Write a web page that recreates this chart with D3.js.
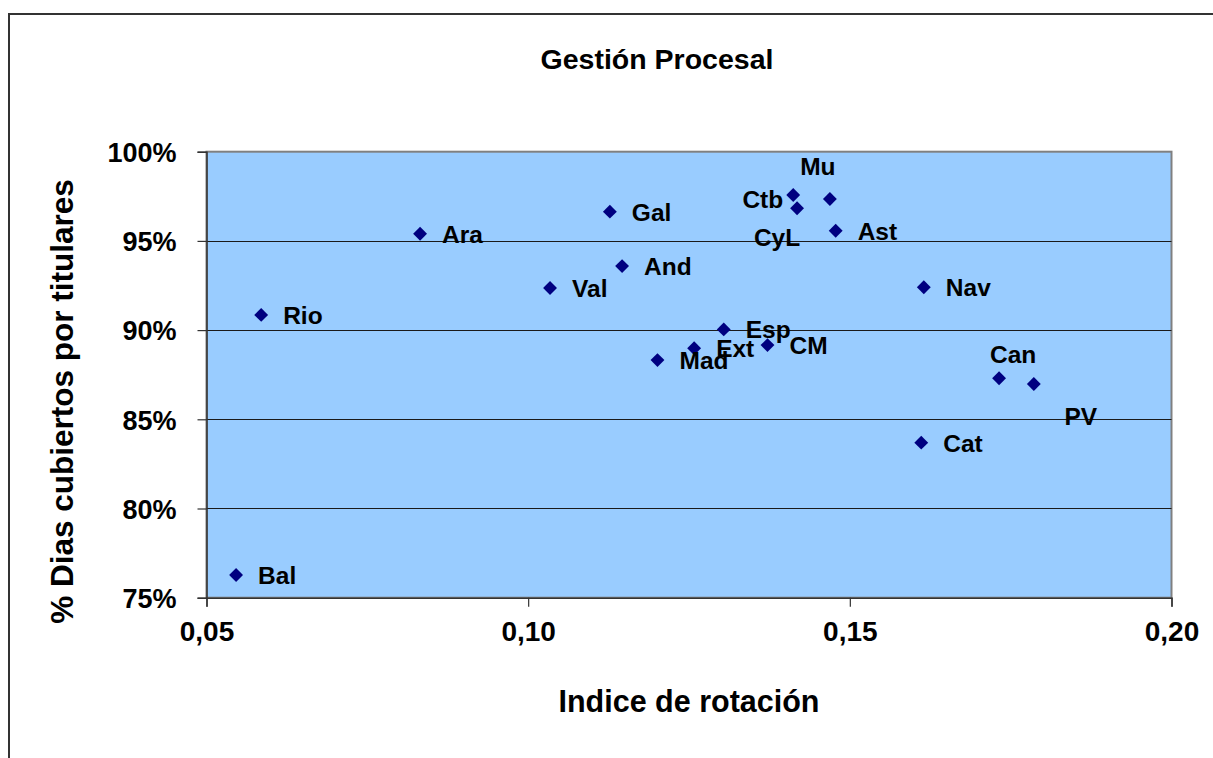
<!DOCTYPE html>
<html>
<head>
<meta charset="utf-8">
<script src="https://cdn.jsdelivr.net/npm/d3@7"></script>
<style>
  html, body { margin: 0; padding: 0; background: #fff; }
  svg { display: block; font-family: "Liberation Sans", Arial, sans-serif; font-weight: bold; }
</style>
</head>
<body>
<svg id="chart" width="1213" height="758"></svg>
<script>
// ---- Data ----
const regions = ["Bal","Rio","Ara","Val","Gal","And","Mad","Ext","Esp","CM","Ctb","CyL","Mu","Ast","Nav","Cat","Can","PV"];
const rotationIndex = [0.0546,0.0585,0.0832,0.1034,0.1127,0.1146,0.1201,0.1258,0.1304,0.1372,0.1412,0.1418,0.1469,0.1478,0.1615,0.1611,0.1732,0.1786];
const coveredDays = [0.7627,0.9085,0.9540,0.9236,0.9664,0.9359,0.8832,0.8898,0.9004,0.8916,0.9757,0.9683,0.9735,0.9557,0.9240,0.8369,0.8730,0.8698];
const xTicks = [0.05,0.10,0.15,0.20];
const yTicks = [0.75,0.80,0.85,0.90,0.95,1.00];
const chartTitle = "Gestión Procesal";
const xTitle = "Indice de rotación";
const yTitle = "% Dias cubiertos por titulares";

// ---- Layout (not data) ----
const plot = { left: 206.5, right: 1171.5, top: 151.7, bottom: 597.7 };
// custom label placements (anchor, dx, dy from the marker); default = right
const labelPlacement = {
  Mu:  { anchor: "middle", dx: -12, dy: -24 },
  Ctb: { anchor: "end",    dx: -10, dy: 13 },
  CyL: { anchor: "middle", dx: -20, dy: 38 },
  Can: { anchor: "middle", dx: 14,  dy: -15 },
  PV:  { anchor: "middle", dx: 47,  dy: 41 }
};

const svg = d3.select("#chart");
const fmtComma = d3.format(".2f");

const x = d3.scaleLinear().domain([0.05, 0.20]).range([plot.left, plot.right]);
const y = d3.scaleLinear().domain([0.75, 1.00]).range([plot.bottom, plot.top]);

// outer chart border
svg.append("rect")
  .attr("x", 9).attr("y", 14).attr("width", 1400).attr("height", 900)
  .attr("fill", "#fff").attr("stroke", "#333").attr("stroke-width", 2);

// plot area
svg.append("rect")
  .attr("x", plot.left).attr("y", plot.top)
  .attr("width", plot.right - plot.left).attr("height", plot.bottom - plot.top)
  .attr("fill", "#99CCFF").attr("stroke", "#808080").attr("stroke-width", 2);

// gridlines
svg.append("g").selectAll("line")
  .data(yTicks.filter(t => t > 0.75 && t < 1.0))
  .join("line")
  .attr("x1", plot.left).attr("x2", plot.right)
  .attr("y1", d => Math.round(y(d)) + 0.5).attr("y2", d => Math.round(y(d)) + 0.5)
  .attr("stroke", "#1a1a1a").attr("stroke-width", 1);

// axes
const yAxis = d3.axisLeft(y).tickValues(yTicks).tickSize(9).tickPadding(21)
  .tickFormat(d => Math.round(d * 100) + "%");
const gy = svg.append("g").attr("transform", `translate(${plot.left},0)`).call(yAxis);
gy.select(".domain").attr("stroke", "#333").attr("stroke-width", 1.5);
gy.selectAll(".tick line").attr("stroke", "#333").attr("stroke-width", 1.2);
gy.selectAll(".tick text").attr("font-size", 27).attr("font-weight", "bold")
  .attr("font-family", "Liberation Sans, Arial, sans-serif").attr("fill", "#000").attr("dy", "0.36em");

const xAxis = d3.axisBottom(x).tickValues(xTicks).tickSize(9).tickPadding(14)
  .tickFormat(d => fmtComma(d).replace(".", ","));
const gx = svg.append("g").attr("transform", `translate(0,${plot.bottom})`).call(xAxis);
gx.select(".domain").attr("stroke", "#333").attr("stroke-width", 1.5);
gx.selectAll(".tick line").attr("stroke", "#333").attr("stroke-width", 1.2);
gx.selectAll(".tick text").attr("font-size", 28).attr("font-weight", "bold")
  .attr("font-family", "Liberation Sans, Arial, sans-serif").attr("fill", "#000");

// points
const points = regions.map((r, i) => ({ name: r, xv: rotationIndex[i], yv: coveredDays[i] }));
const sym = d3.symbol().type(d3.symbolSquare).size(96);
svg.append("g").selectAll("path")
  .data(points).join("path")
  .attr("d", sym)
  .attr("transform", d => `translate(${x(d.xv)},${y(d.yv)}) rotate(45)`)
  .attr("fill", "#000080");

// labels
svg.append("g").selectAll("text")
  .data(points).join("text")
  .attr("x", d => x(d.xv) + (labelPlacement[d.name] ? labelPlacement[d.name].dx : 22))
  .attr("y", d => y(d.yv) + (labelPlacement[d.name] ? labelPlacement[d.name].dy : 9))
  .attr("text-anchor", d => labelPlacement[d.name] ? labelPlacement[d.name].anchor : "start")
  .attr("font-size", 24.5).attr("fill", "#000")
  .text(d => d.name);

// titles
svg.append("text").attr("x", 657).attr("y", 69).attr("text-anchor", "middle")
  .attr("font-size", 28.5).text(chartTitle);
svg.append("text").attr("x", (plot.left + plot.right) / 2).attr("y", 712).attr("text-anchor", "middle")
  .attr("font-size", 30.5).text(xTitle);
svg.append("text").attr("transform", "translate(72.5,401.5) rotate(-90)").attr("text-anchor", "middle")
  .attr("font-size", 31.5).text(yTitle);
</script>
</body>
</html>
